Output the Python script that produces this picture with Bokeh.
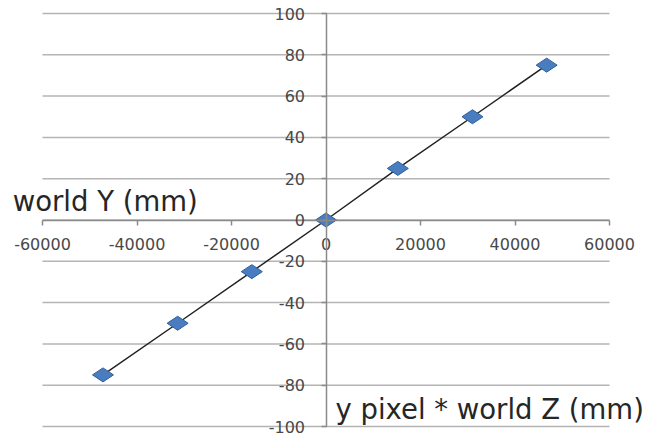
from bokeh.plotting import figure
from bokeh.models import Range1d, FixedTicker, Label, ColumnDataSource
from bokeh.embed import file_html
from bokeh.resources import INLINE
import math

# data
pixel_z = [-47200, -31400, -15700, 0, 15200, 31000, 46700]
world_y = [-75, -50, -25, 0, 25, 50, 75]
x_ticks = [-60000, -40000, -20000, 0, 20000, 40000, 60000]
y_ticks = [-100, -80, -60, -40, -20, 0, 20, 40, 60, 80, 100]
y_title = "world Y (mm)"
x_title = "y pixel * world Z (mm)"

src = ColumnDataSource(dict(x=pixel_z, y=world_y))
grid_src = ColumnDataSource(dict(x0=[x_ticks[0]] * len(y_ticks), x1=[x_ticks[-1]] * len(y_ticks),
                                 y=y_ticks))

W, H = 651, 435
# plot area in pixels: x 42..609, y 13..426
xspan = x_ticks[-1] - x_ticks[0]
xpx = xspan / 567
yspan = y_ticks[-1] - y_ticks[0]
ypx = yspan / 413
p = figure(width=W, height=H,
           x_range=Range1d(x_ticks[0] - 42 * xpx, x_ticks[-1] + (W - 609) * xpx),
           y_range=Range1d(y_ticks[0] - (H - 426) * ypx, y_ticks[-1] + 13 * ypx),
           output_backend="svg", toolbar_location=None,
           min_border_left=0, min_border_right=0, min_border_top=0, min_border_bottom=0)
p.outline_line_color = None
p.background_fill_color = "white"
p.border_fill_color = "white"
p.grid.visible = False

# horizontal gridlines
p.segment(x0="x0", y0="y", x1="x1", y1="y", source=grid_src, line_color="#b4b4b4", line_width=1.5)

for ax in (p.xaxis[0], p.yaxis[0]):
    ax.fixed_location = 0
    ax.axis_line_color = "#8a8a8a"
    ax.axis_line_width = 1.5
    ax.major_tick_line_color = "#8a8a8a"
    ax.major_tick_line_width = 1.5
    ax.major_tick_in = 0
    ax.major_tick_out = 5
    ax.minor_tick_line_color = None
    ax.major_label_text_font = "DejaVu Sans"
    ax.major_label_text_font_size = "16px"
    ax.major_label_text_color = "#484848"

p.xaxis.bounds = (x_ticks[0], x_ticks[-1])
p.yaxis.bounds = (y_ticks[0], y_ticks[-1])
p.xaxis.ticker = FixedTicker(ticks=x_ticks)
p.yaxis.ticker = FixedTicker(ticks=y_ticks)
p.xaxis.major_label_overrides = {v: str(v) for v in x_ticks}
p.yaxis.major_label_overrides = {v: str(v) for v in y_ticks}
p.xaxis.major_label_standoff = 13
p.yaxis.major_label_standoff = 16

p.line("x", "y", source=src, line_color="#222222", line_width=1.5)
p.scatter("x", "y", source=src, marker="diamond", size=21, angle=math.pi / 2,
          fill_color="#4a7cc0", line_color="#2f5f9f", line_width=1)

p.add_layout(Label(x=-66300, y=9.4, text=y_title, text_font="DejaVu Sans", text_font_size="27.5px",
                   text_color="#262626", text_baseline="middle", text_align="left"))
p.add_layout(Label(x=2000, y=-91.3, text=x_title, text_font="DejaVu Sans", text_font_size="27.5px",
                   text_color="#262626", text_baseline="middle", text_align="left"))

open("out.html", "w").write(file_html(p, INLINE))
